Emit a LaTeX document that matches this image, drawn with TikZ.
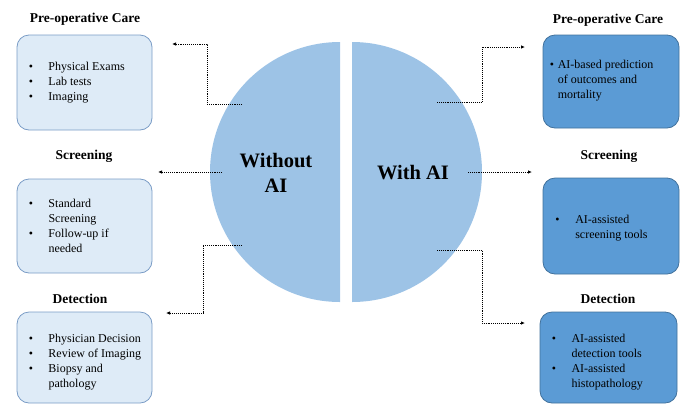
\documentclass[tikz,border=0pt]{standalone}
\usepackage{fontspec}
\setmainfont{Liberation Serif}
\usepackage{tikz}
\usetikzlibrary{arrows.meta, positioning}
\definecolor{halfblue}{HTML}{9DC3E6}
\definecolor{paleblue}{HTML}{DEEBF7}
\definecolor{paleedge}{HTML}{7A9CC6}
\definecolor{aiblue}{HTML}{5B9BD5}
\definecolor{aiedge}{HTML}{41719C}
\newcommand{\blist}[2]{\begin{tabular}{@{}p{#1}@{}l@{}}#2\end{tabular}}

\begin{document}
\begin{tikzpicture}[x=1pt, y=-1pt,
    plainbox/.style={draw=paleedge, fill=paleblue, rounded corners=12pt, line width=0.8pt, minimum width=135pt},
    aibox/.style={draw=aiedge, fill=aiblue, rounded corners=12pt, line width=0.8pt, minimum width=136pt},
    heading/.style={font=\fontsize{13.5}{16}\selectfont\bfseries},
    items/.style={anchor=west, inner sep=0pt, font=\fontsize{12}{15}\selectfont},
    circtext/.style={align=center, font=\fontsize{20.5}{25}\selectfont\bfseries},
    conn/.style={densely dotted, line width=0.9pt, -{Latex[length=4pt,width=3.5pt]}}]
      \useasboundingbox (0,0) rectangle (684,405);
      \fill[halfblue] (340,42) arc[start angle=270, end angle=90, radius=130] -- cycle;
      \fill[halfblue] (352,42) arc[start angle=270, end angle=450, radius=130] -- cycle;
      \node[circtext] (woai) at (276,172.5) {Without\\AI};
      \node[circtext] (wai) at (413,173) {With AI};

      \node[heading] (prehead) at (85,19) {Pre-operative Care};
      \node[plainbox, minimum height=95pt] (prebox) at (84.5,82.5) {};
      \node[items] (prelist) at ([xshift=12pt]prebox.west) {\blist{19.7pt}{\textbullet & Physical Exams\\ \textbullet & Lab tests\\ \textbullet & Imaging}};
      \node[heading] (scrhead) at (84,156) {Screening};
      \node[plainbox, minimum height=94pt] (scrbox) at (84.5,226) {};
      \node[items] (scrlist) at ([xshift=12pt, yshift=-1pt]scrbox.west) {\blist{19.7pt}{\textbullet & Standard\\ & Screening\\ \textbullet & Follow-up if\\ & needed}};
      \node[heading] (dethead) at (80,299) {Detection};
      \node[plainbox, minimum height=91pt] (detbox) at (84.5,357.5) {};
      \node[items] (detlist) at ([xshift=12pt, yshift=-4pt]detbox.west) {\blist{19.7pt}{\textbullet & Physician Decision\\ \textbullet & Review of Imaging\\ \textbullet & Biopsy and\\ & pathology}};

      \node[heading] (aiprehead) at (608,20) {Pre-operative Care};
      \node[aibox, minimum height=93pt] (aipre) at (611,81.5) {};
      \node[items] (aiprelist) at ([xshift=7pt, yshift=1.5pt]aipre.west) {\blist{8pt}{\textbullet & AI-based prediction\\ & of outcomes and\\ & mortality}};
      \node[heading] (aiscrhead) at (609,156) {Screening};
      \node[aibox, minimum height=96pt] (aiscr) at (611,226) {};
      \node[items] (aiscrlist) at ([xshift=12.5pt, yshift=-1.5pt]aiscr.west) {\blist{20pt}{\textbullet & AI-assisted\\ & screening tools}};
      \node[heading] (aidethead) at (608,299) {Detection};
      \node[aibox, minimum height=91pt, minimum width=137pt] (aidet) at (608.5,357.5) {};
      \node[items] (aidetlist) at ([xshift=12pt, yshift=-4pt]aidet.west) {\blist{19.7pt}{\textbullet & AI-assisted\\ & detection tools\\ \textbullet & AI-assisted\\ & histopathology}};

      \coordinate (woai-pre) at (242,104);
      \coordinate (woai-scr) at (222,172);
      \coordinate (woai-det) at (242,245);
      \coordinate (pre-tip) at (172,44);
      \coordinate (scr-tip) at (158,172);
      \coordinate (det-tip) at (166,313);
      \draw[conn] (woai-pre) -- ++(-35,0) |- (pre-tip);
      \draw[conn] (woai-scr) -- (scr-tip);
      \draw[conn] (woai-det) -- ++(-39,0) |- (det-tip);

      \coordinate (wai-pre) at (437,102);
      \coordinate (wai-scr) at (468,172);
      \coordinate (wai-det) at (437,250);
      \coordinate (aipre-tip) at (525,47);
      \coordinate (aiscr-tip) at (532,172);
      \coordinate (aidet-tip) at (525,323);
      \draw[conn] (wai-pre) -- ++(45,0) |- (aipre-tip);
      \draw[conn] (wai-scr) -- (aiscr-tip);
      \draw[conn] (wai-det) -- ++(45,0) |- (aidet-tip);
\end{tikzpicture}
\end{document}
